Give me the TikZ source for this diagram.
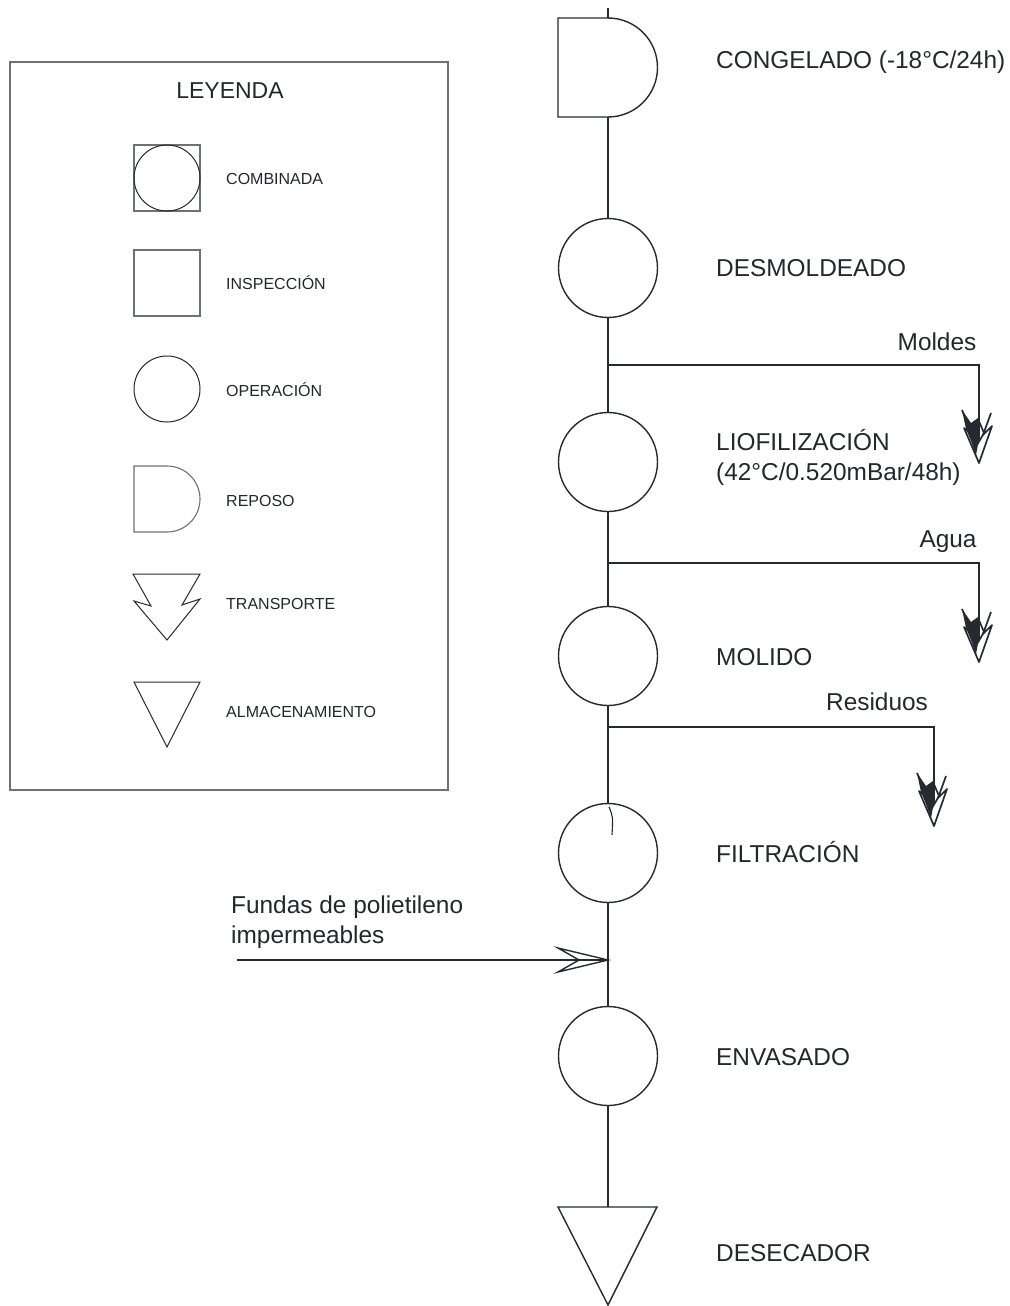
\documentclass[tikz,border=0pt]{standalone}
\usepackage{fontspec}
\setmainfont{Liberation Sans}
\begin{document}
\begin{tikzpicture}[x=1pt,y=-1pt,
  ink/.style={draw=inkc,line width=1.4pt,line join=miter},
  thin/.style={draw=inkc,line width=1pt},
  grayline/.style={draw=grayc,line width=1.1pt},
  op/.style={ink,circle,minimum size=99pt,inner sep=0pt,fill=white},
  lbl/.style={anchor=base west,inner sep=0pt,text=textc,font=\fontsize{24.4}{29}\selectfont},
  lbc/.style={anchor=base,inner sep=0pt,text=textc,font=\fontsize{24.4}{29}\selectfont},
  leg/.style={anchor=base west,inner sep=0pt,text=textc,font=\fontsize{16}{19}\selectfont},
  pics/outflow/.style={code={
    \draw[ink,line width=1.7pt,line join=round] (-17,-53) -- (-6,-28) -- (-15,-35) -- (0,0) -- (13,-37) -- (4,-28) -- (12,-50);
    \fill[inkc] (-17,-53) -- (-8,-40) -- (-1,-45) -- (0,-24) -- (-3,-8) -- (-8,-22) -- (-13,-34) -- cycle;
    \draw[ink,line width=1.7pt] (-1,-44) -- (5,-30) -- (-2,-18);
  }}]
\definecolor{inkc}{HTML}{262A30}
\definecolor{grayc}{HTML}{6E7176}
\definecolor{textc}{HTML}{24272C}
\useasboundingbox (0,0) rectangle (1009,1306);
\fill[white] (0,0) rectangle (1009,1306);

% ---------- legend ----------
\draw[grayline] (10,62) rectangle (448,790);
\node[anchor=base,inner sep=0pt,text=textc,font=\fontsize{23}{27}\selectfont] (legtitle) at (230,99) {LEYENDA};
% combined
\draw[grayline] (134,145) rectangle (200,211);
\draw[thin] (167,178) circle[radius=33];
\node[leg] (lcomb) at (226,184) {COMBINADA};
% inspection
\draw[grayline] (134,250) rectangle (200,316);
\node[leg] (linsp) at (226,289) {INSPECCIÓN};
% operation
\draw[thin] (167,389) circle[radius=33];
\node[leg] (loper) at (226,396) {OPERACIÓN};
% delay
\draw[grayline] (134,466) -- (167,466) arc[start angle=-90,end angle=90,radius=33] -- (134,532) -- cycle;
\node[leg] (lrep) at (226,506) {REPOSO};
% transport
\draw[thin] (133,574) -- (200,574) -- (182,605) -- (200,599) -- (167,640) -- (134,601) -- (151,606) -- cycle;
\node[leg] (ltrans) at (226,609) {TRANSPORTE};
% storage
\draw[thin] (134,682) -- (200,682) -- (167,747) -- cycle;
\node[leg] (lalm) at (226,717) {ALMACENAMIENTO};

% ---------- process chain ----------
\coordinate (start) at (608,8);
\coordinate (congN) at (608,18);
\coordinate (congS) at (608,117);
\draw[ink] (558,18) -- (congN) arc[start angle=-90,end angle=90,radius=49.5] -- (558,117) -- cycle;
\node[lbl] (tcong) at (716,68) {CONGELADO (-18°C/24h)};

\node[op] (desm) at (608,268) {};
\node[lbl] (tdesm) at (716,276) {DESMOLDEADO};

\node[op] (liof) at (608,462) {};
\node[lbl] (tliof1) at (716,450) {LIOFILIZACIÓN};
\node[lbl] (tliof2) at (716,480) {(42°C/0.520mBar/48h)};

\node[op] (mol) at (608,656) {};
\node[lbl] (tmol) at (716,665) {MOLIDO};

\node[op] (filt) at (608,853) {};
\node[lbl] (tfilt) at (716,862) {FILTRACIÓN};

\node[op] (env) at (608,1056) {};
\node[lbl] (tenv) at (716,1065) {ENVASADO};

\coordinate (desN) at (608,1207);
\draw[ink] (558,1207) -- (657,1207) -- (608,1305) -- cycle;
\node[lbl] (tdes) at (716,1261) {DESECADOR};

% main flow line
\draw[ink] (start) -- (congN);
\draw[ink] (congS) -- (desm.north);
\draw[ink] (desm.south) -- (liof.north);
\draw[ink] (liof.south) -- (mol.north);
\draw[ink] (mol.south) -- (filt.north);
\draw[ink] (filt.south) -- (env.north);
\draw[ink] (env.south) -- (desN);
\draw[ink,line width=1.1pt] (filt.north) ++(1,4) .. controls +(4,10) .. +(3,28);

% ---------- outgoing streams ----------
\coordinate (j1) at (608,365);
\coordinate (k1) at (979,365);
\coordinate (e1) at (979,440);
\draw[ink] (j1) -- (k1) -- (e1);
\pic at (979,463) {outflow};
\node[lbc] (tmold) at (937,350) {Moldes};

\coordinate (j2) at (608,563);
\coordinate (k2) at (979,563);
\coordinate (e2) at (979,640);
\draw[ink] (j2) -- (k2) -- (e2);
\pic at (979,662) {outflow};
\node[lbc] (tagua) at (948,547) {Agua};

\coordinate (j3) at (608,727);
\coordinate (k3) at (934,727);
\coordinate (e3) at (934,803);
\draw[ink] (j3) -- (k3) -- (e3);
\pic at (934,826) {outflow};
\node[lbc] (tres) at (877,710) {Residuos};

% ---------- incoming stream ----------
\coordinate (feed) at (237,960);
\coordinate (jf) at (608,960);
\draw[ink] (feed) -- (jf);
\draw[ink] (558,948) -- (jf) -- (558,972) -- (579,960) -- cycle;
\node[lbl] (tfund1) at (231,913) {Fundas de polietileno};
\node[lbl] (tfund2) at (231,943) {impermeables};
\end{tikzpicture}
\end{document}
